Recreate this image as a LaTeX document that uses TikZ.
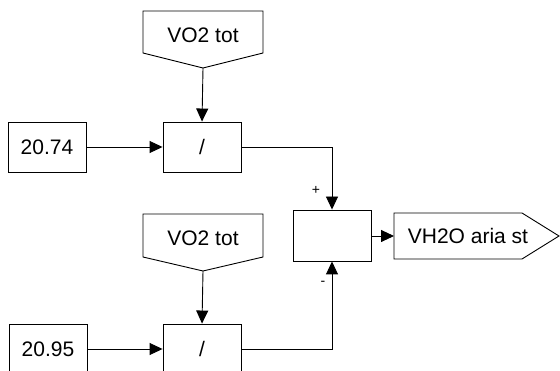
\documentclass[tikz,border=0pt]{standalone}
\usepackage{fontspec}
\setmainfont{Liberation Sans}
\usetikzlibrary{arrows.meta}
\begin{document}
\begin{tikzpicture}[x=1pt,y=-1pt,line width=0.9pt,
  blk/.style={draw,minimum width=78pt,minimum height=50pt,inner sep=0pt,font=\fontsize{21}{21}\selectfont},
  lbl/.style={inner sep=0pt,font=\fontsize{21}{21}\selectfont},
  sgn/.style={inner sep=0pt,font=\fontsize{14}{14}\selectfont},
  arr/.style={-{Triangle[length=13pt,width=12pt]}}]
\useasboundingbox[fill=white] (0,0) rectangle (560,371);
% input pentagons
\draw (143,11) -- (263,11) -- (263,53) -- (203,68) -- (143,53) -- cycle;
\node[lbl] (vo1) at (203,35.5) {VO2 tot};
\coordinate (v1) at (203,68);
\draw (143,214) -- (263,214) -- (263,257) -- (203,271) -- (143,257) -- cycle;
\node[lbl] (vo2) at (203,238.5) {VO2 tot};
\coordinate (v2) at (203,271);
% blocks
\node[blk] (c1) at (47,147) {20.74};
\node[blk] (d1) at (202,147) {/};
\node[blk] (c2) at (48,349) {20.95};
\node[blk] (d2) at (202,349) {/};
\node[blk,minimum height=51pt] (sum) at (332,235.5) {};
% output
\draw (394,213) -- (522,213) -- (559,236) -- (522,259) -- (394,259) -- cycle;
\node[lbl] (out) at (468,236) {VH2O aria st};
\coordinate (outw) at (394,236);
% connectors
\draw[arr] (v1) -- (d1.north);
\draw[arr] (c1) -- (d1);
\draw[arr] (v2) -- (d2.north);
\draw[arr] (c2) -- (d2);
\draw[arr] (d1.east) -| (sum.north);
\draw[arr] (d2.east) -| (sum.south);
\draw[arr] (sum.east |- outw) -- (outw);
\node[sgn] (plus) at (316,190) {+};
\node[sgn] (minus) at (323,283) {-};
\end{tikzpicture}
\end{document}
